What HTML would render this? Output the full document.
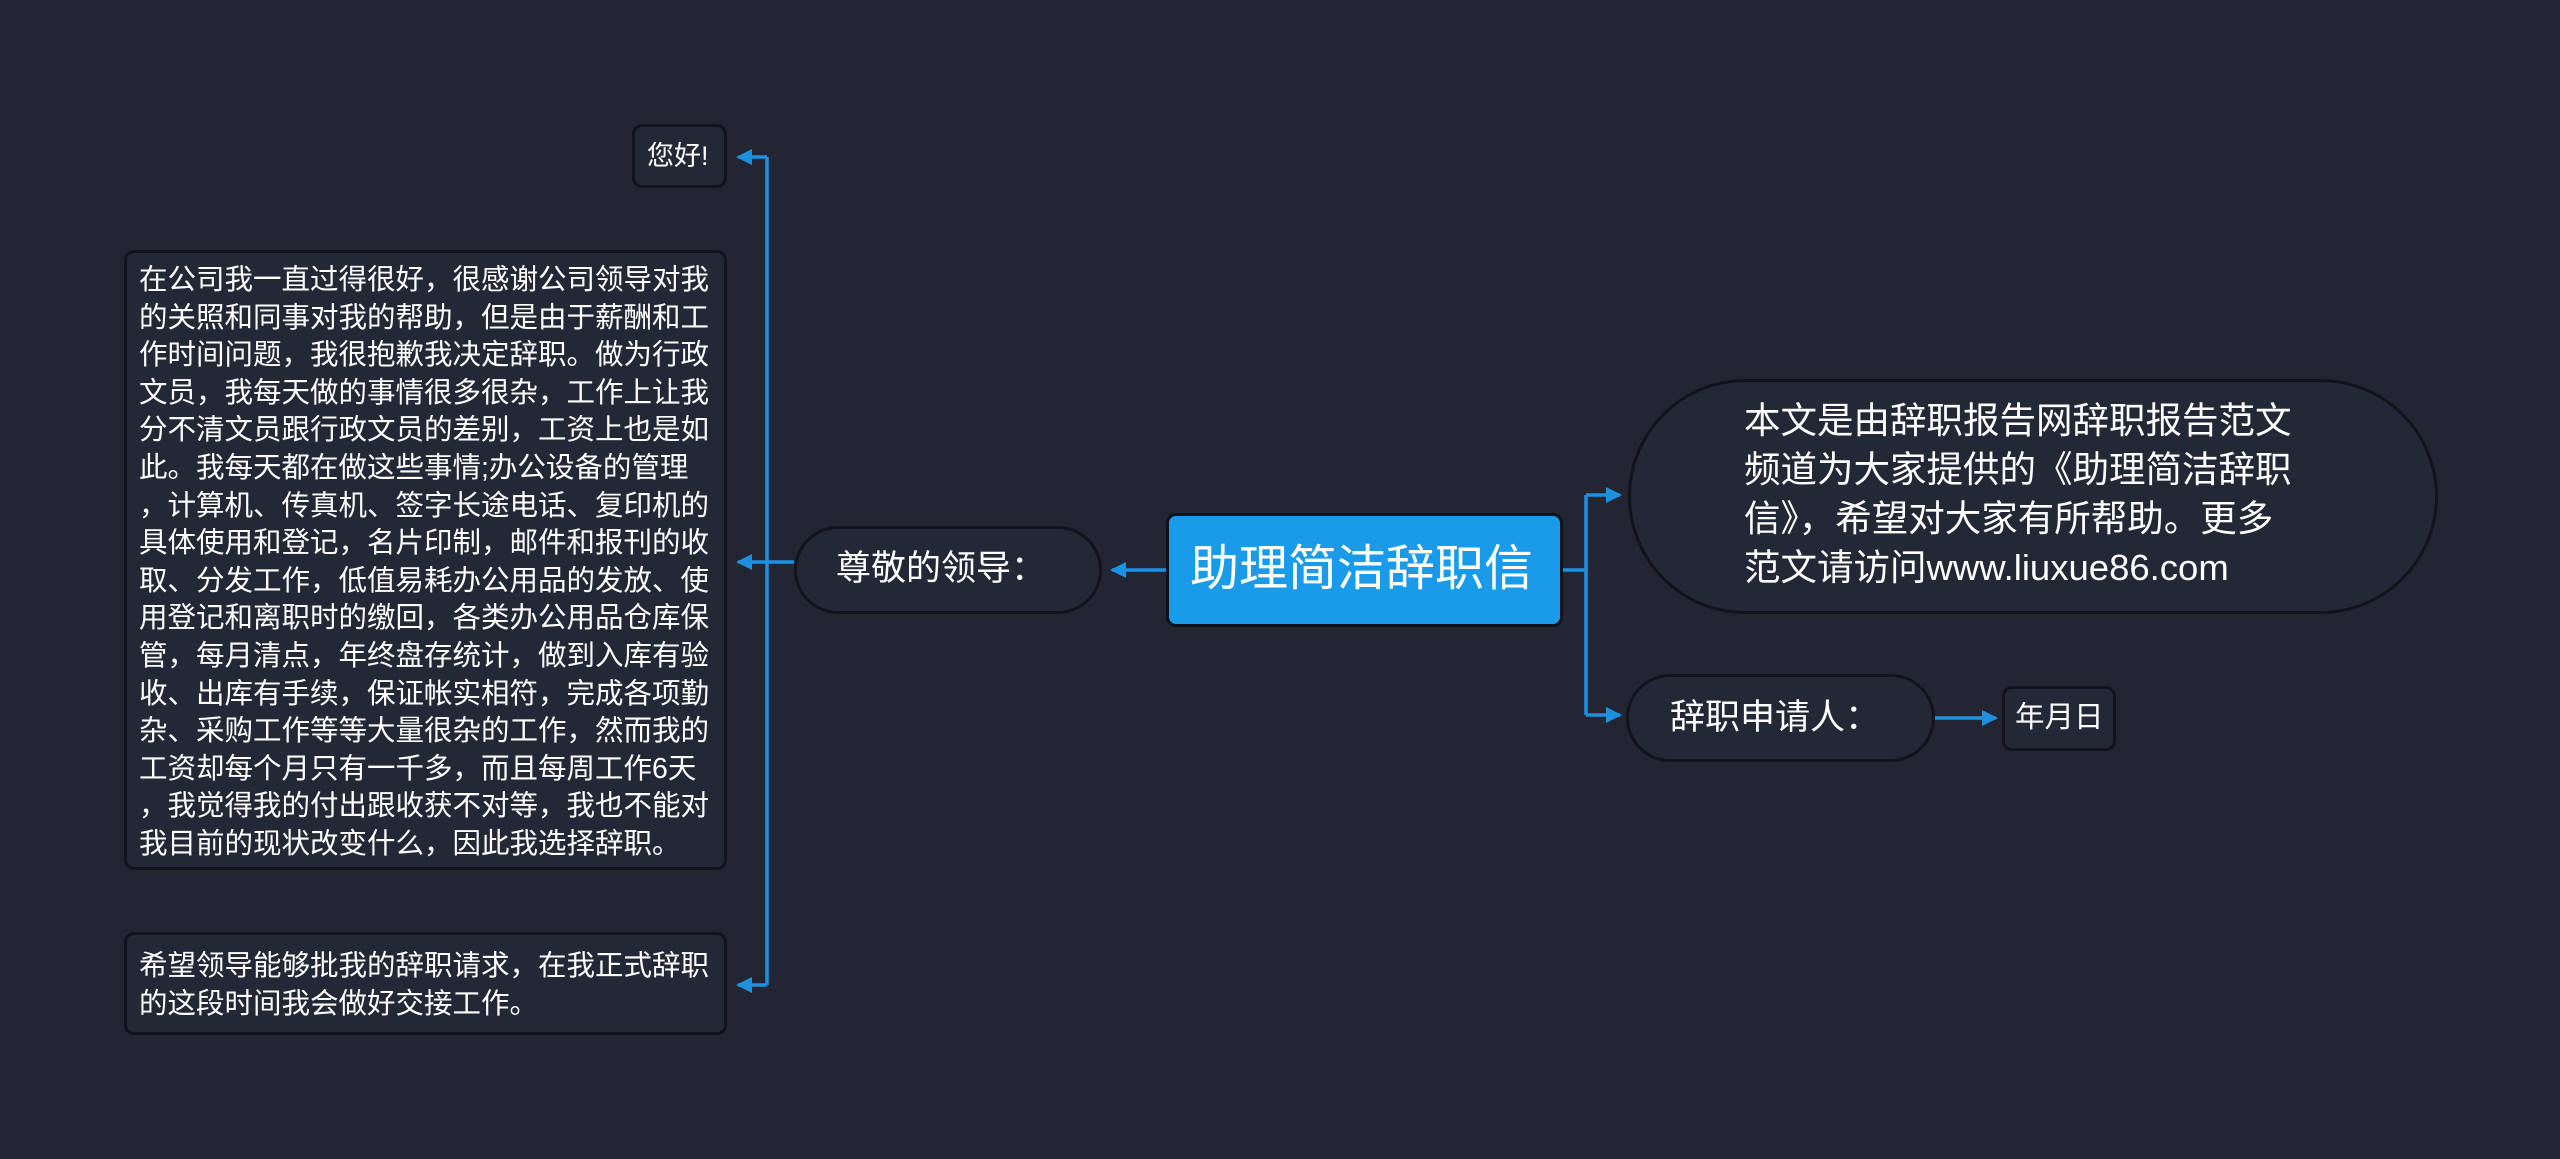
<!DOCTYPE html>
<html><head><meta charset="utf-8"><style>
body{margin:0;width:2560px;height:1159px;background:#222633;overflow:hidden;position:relative;font-family:"Liberation Sans","Noto Sans CJK SC",sans-serif;color:#fff}
.n{position:absolute;box-sizing:border-box;background:#232837;border:3px solid #11141b;}
.t{position:absolute;white-space:nowrap}
</style></head><body>
<svg width="2560" height="1159" style="position:absolute;left:0;top:0">
<defs><marker id="a" markerWidth="20" markerHeight="20" refX="14" refY="10" orient="auto" markerUnits="userSpaceOnUse"><path d="M0,2 L16,10 L0,18 Z" fill="#1e90e0"/></marker></defs>
<g stroke="#1e90e0" stroke-width="3.5" fill="none">
<path d="M1166 570 H1112" marker-end="url(#a)"/>
<path d="M794 562 H767"/>
<path d="M767 157 V985"/>
<path d="M767 157 H738" marker-end="url(#a)"/>
<path d="M767 562 H738" marker-end="url(#a)"/>
<path d="M767 985 H738" marker-end="url(#a)"/>
<path d="M1563 570 H1586"/>
<path d="M1586 495 V715"/>
<path d="M1586 495 H1620" marker-end="url(#a)"/>
<path d="M1586 715 H1620" marker-end="url(#a)"/>
<path d="M1935 718 H1996" marker-end="url(#a)"/>
</g></svg>

<div class="n" style="left:632px;top:124px;width:95px;height:64px;border-radius:10px"></div>
<div class="t" style="left:647px;top:138px;font-size:27px;line-height:36px">您好!</div>

<div class="n" style="left:124px;top:250px;width:603px;height:620px;border-radius:10px"></div>
<div class="t" style="left:139px;top:262px;font-size:28.5px;line-height:37.6px;white-space:pre">在公司我一直过得很好，很感谢公司领导对我
的关照和同事对我的帮助，但是由于薪酬和工
作时间问题，我很抱歉我决定辞职。做为行政
文员，我每天做的事情很多很杂，工作上让我
分不清文员跟行政文员的差别，工资上也是如
此。我每天都在做这些事情;办公设备的管理
，计算机、传真机、签字长途电话、复印机的
具体使用和登记，名片印制，邮件和报刊的收
取、分发工作，低值易耗办公用品的发放、使
用登记和离职时的缴回，各类办公用品仓库保
管，每月清点，年终盘存统计，做到入库有验
收、出库有手续，保证帐实相符，完成各项勤
杂、采购工作等等大量很杂的工作，然而我的
工资却每个月只有一千多，而且每周工作6天
，我觉得我的付出跟收获不对等，我也不能对
我目前的现状改变什么，因此我选择辞职。</div>

<div class="n" style="left:124px;top:932px;width:603px;height:103px;border-radius:10px"></div>
<div class="t" style="left:139px;top:948px;font-size:28.5px;line-height:37.6px;white-space:pre">希望领导能够批我的辞职请求，在我正式辞职
的这段时间我会做好交接工作。</div>

<div class="n" style="left:794px;top:526px;width:308px;height:88px;border-radius:44px"></div>
<div class="t" style="left:836px;top:547px;font-size:35px;line-height:44px">尊敬的领导：</div>

<div class="n" style="left:1166px;top:513px;width:397px;height:114px;border-radius:10px;background:#1a9bea;border-color:#0f1219"></div>
<div class="t" style="left:1190px;top:540px;font-size:49px;line-height:58px">助理简洁辞职信</div>

<div class="n" style="left:1628px;top:379px;width:810px;height:235px;border-radius:118px"></div>
<div class="t" style="left:1744px;top:396px;font-size:36.5px;line-height:49px;white-space:pre">本文是由辞职报告网辞职报告范文
频道为大家提供的《助理简洁辞职
信》，希望对大家有所帮助。更多
范文请访问www.liuxue86.com</div>

<div class="n" style="left:1626px;top:674px;width:309px;height:88px;border-radius:44px"></div>
<div class="t" style="left:1670px;top:696px;font-size:35px;line-height:44px">辞职申请人：</div>

<div class="n" style="left:2002px;top:686px;width:114px;height:65px;border-radius:10px"></div>
<div class="t" style="left:2015px;top:700px;font-size:29.5px;line-height:36px">年月日</div>
</body></html>
